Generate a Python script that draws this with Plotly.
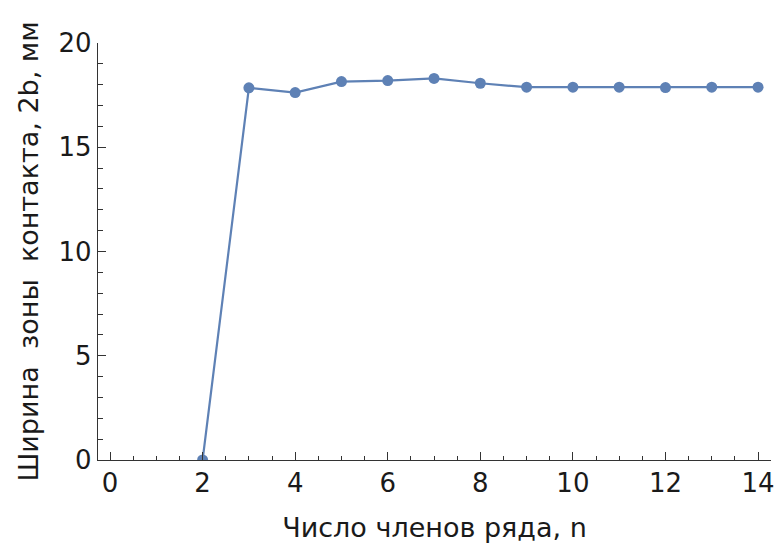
import plotly.graph_objects as go

n_values = [2, 3, 4, 5, 6, 7, 8, 9, 10, 11, 12, 13, 14]
width_2b = [0.0, 17.85, 17.62, 18.15, 18.2, 18.3, 18.07, 17.88, 17.88, 17.88, 17.86, 17.88, 17.88]

x_ticks = [0, 2, 4, 6, 8, 10, 12, 14]
y_ticks = [0, 5, 10, 15, 20]

x_title = "Число членов ряда, n"
y_title = "Ширина  зоны  контакта, 2b, мм"

color = "#5E81B5"
tick_font = dict(family="DejaVu Sans, sans-serif", size=26, color="#1a1a1a")
title_font = dict(family="DejaVu Sans, sans-serif", size=27, color="#1a1a1a")

fig = go.Figure()
fig.add_trace(go.Scatter(
    x=n_values, y=width_2b, mode="lines+markers",
    line=dict(color=color, width=2.2),
    marker=dict(color=color, size=11),
    cliponaxis=True, showlegend=False,
))

fig.update_layout(
    width=783, height=551,
    margin=dict(l=98, r=8, t=43, b=91),
    paper_bgcolor="white", plot_bgcolor="white",
    font=tick_font,
)
fig.update_xaxes(
    range=[-0.26, 14.28], tickvals=x_ticks, ticks="inside", ticklen=8, tickwidth=1.2,
    tickcolor="#333", showline=True, linecolor="#333", linewidth=1.3,
    showgrid=False, zeroline=False,
    minor=dict(dtick=0.5, tick0=0, ticks="inside", ticklen=4, tickcolor="#333", tickwidth=1, showgrid=False),
    title=dict(text=x_title, standoff=20, font=title_font),
    tickfont=tick_font,
)
fig.update_yaxes(
    range=[0, 20], tickvals=y_ticks, ticks="inside", ticklen=8, tickwidth=1.2,
    tickcolor="#333", showline=True, linecolor="#333", linewidth=1.3,
    showgrid=False, zeroline=False,
    minor=dict(dtick=1, tick0=0, ticks="inside", ticklen=5, tickcolor="#333", tickwidth=1, showgrid=False),
    title=dict(text=y_title, standoff=12, font=title_font),
    tickfont=tick_font,
)

fig.write_html("out.html")
